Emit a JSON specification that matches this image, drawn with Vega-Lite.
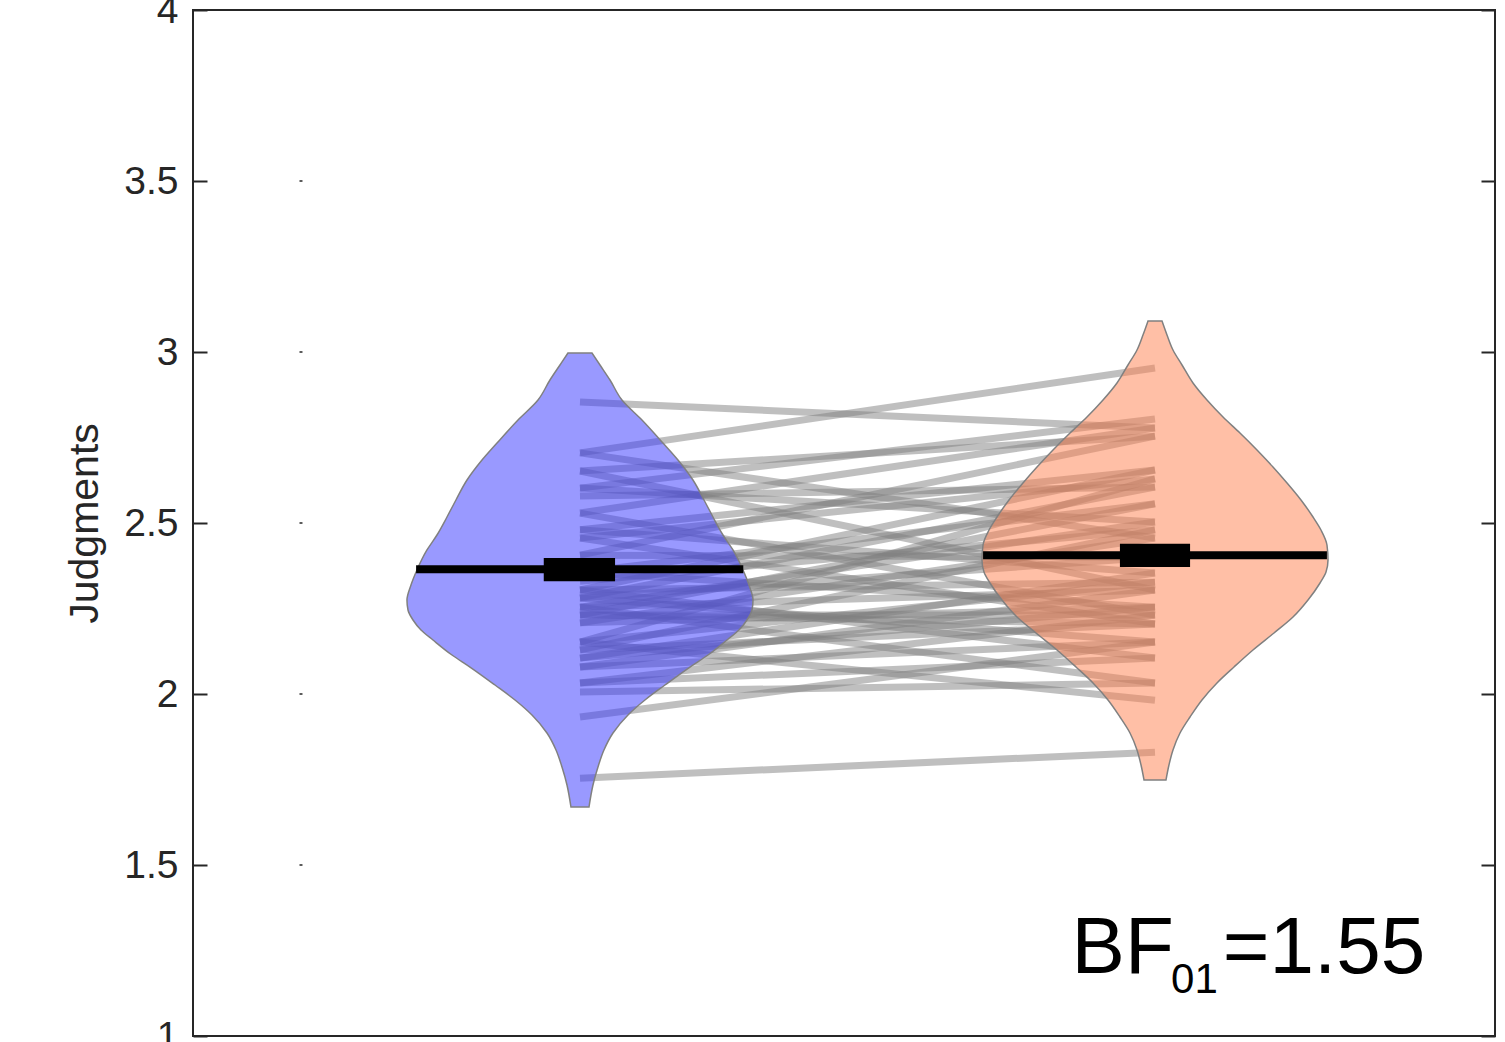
{
  "$schema": "https://vega.github.io/schema/vega-lite/v6.json",
  "autosize": {"type": "none"},
  "width": 1302,
  "height": 1026,
  "padding": {"left": 193, "top": 10, "right": 10, "bottom": 6},
  "background": "white",
  "config": {"view": {"stroke": "#262626", "strokeWidth": 2}, "font": "Liberation Sans"},
  "datasets": {
    "pairs": [
      {"id":1,"c":1,"v":2.854},{"id":1,"c":2,"v":2.778},
      {"id":2,"c":1,"v":2.705},{"id":2,"c":2,"v":2.953},
      {"id":3,"c":1,"v":2.705},{"id":3,"c":2,"v":2.456},
      {"id":4,"c":1,"v":2.652},{"id":4,"c":2,"v":2.754},
      {"id":5,"c":1,"v":2.652},{"id":5,"c":2,"v":2.304},
      {"id":6,"c":1,"v":2.602},{"id":6,"c":2,"v":2.804},
      {"id":7,"c":1,"v":2.602},{"id":7,"c":2,"v":2.503},
      {"id":8,"c":1,"v":2.579},{"id":8,"c":2,"v":2.605},
      {"id":9,"c":1,"v":2.529},{"id":9,"c":2,"v":2.778},
      {"id":10,"c":1,"v":2.529},{"id":10,"c":2,"v":2.231},
      {"id":11,"c":1,"v":2.480},{"id":11,"c":2,"v":2.655},
      {"id":12,"c":1,"v":2.480},{"id":12,"c":2,"v":2.354},
      {"id":13,"c":1,"v":2.456},{"id":13,"c":2,"v":2.629},
      {"id":14,"c":1,"v":2.456},{"id":14,"c":2,"v":2.205},
      {"id":15,"c":1,"v":2.406},{"id":15,"c":2,"v":2.754},
      {"id":16,"c":1,"v":2.406},{"id":16,"c":2,"v":2.400},
      {"id":17,"c":1,"v":2.356},{"id":17,"c":2,"v":2.556},
      {"id":18,"c":1,"v":2.356},{"id":18,"c":2,"v":2.254},
      {"id":19,"c":1,"v":2.330},{"id":19,"c":2,"v":2.480},
      {"id":20,"c":1,"v":2.304},{"id":20,"c":2,"v":2.655},
      {"id":21,"c":1,"v":2.304},{"id":21,"c":2,"v":2.327},
      {"id":22,"c":1,"v":2.304},{"id":22,"c":2,"v":2.105},
      {"id":23,"c":1,"v":2.281},{"id":23,"c":2,"v":2.605},
      {"id":24,"c":1,"v":2.281},{"id":24,"c":2,"v":2.400},
      {"id":25,"c":1,"v":2.281},{"id":25,"c":2,"v":2.152},
      {"id":26,"c":1,"v":2.254},{"id":26,"c":2,"v":2.503},
      {"id":27,"c":1,"v":2.254},{"id":27,"c":2,"v":2.304},
      {"id":28,"c":1,"v":2.254},{"id":28,"c":2,"v":2.032},
      {"id":29,"c":1,"v":2.231},{"id":29,"c":2,"v":2.556},
      {"id":30,"c":1,"v":2.231},{"id":30,"c":2,"v":2.231},
      {"id":31,"c":1,"v":2.231},{"id":31,"c":2,"v":2.205},
      {"id":32,"c":1,"v":2.208},{"id":32,"c":2,"v":2.456},
      {"id":33,"c":1,"v":2.208},{"id":33,"c":2,"v":2.254},
      {"id":34,"c":1,"v":2.152},{"id":34,"c":2,"v":2.629},
      {"id":35,"c":1,"v":2.152},{"id":35,"c":2,"v":2.327},
      {"id":36,"c":1,"v":2.152},{"id":36,"c":2,"v":1.982},
      {"id":37,"c":1,"v":2.129},{"id":37,"c":2,"v":2.480},
      {"id":38,"c":1,"v":2.129},{"id":38,"c":2,"v":2.205},
      {"id":39,"c":1,"v":2.105},{"id":39,"c":2,"v":2.354},
      {"id":40,"c":1,"v":2.105},{"id":40,"c":2,"v":2.254},
      {"id":41,"c":1,"v":2.079},{"id":41,"c":2,"v":2.304},
      {"id":42,"c":1,"v":2.079},{"id":42,"c":2,"v":2.152},
      {"id":43,"c":1,"v":2.032},{"id":43,"c":2,"v":2.231},
      {"id":44,"c":1,"v":2.032},{"id":44,"c":2,"v":2.105},
      {"id":45,"c":1,"v":2.006},{"id":45,"c":2,"v":2.032},
      {"id":46,"c":1,"v":1.933},{"id":46,"c":2,"v":2.152},
      {"id":47,"c":1,"v":1.754},{"id":47,"c":2,"v":1.830}
    ],
    "violin": [
      {"g":"A","v":1.6696,"lo":0.9843,"hi":1.0157},
      {"g":"A","v":1.7339,"lo":0.9774,"hi":1.0226},
      {"g":"A","v":1.7865,"lo":0.9687,"hi":1.0313},
      {"g":"A","v":1.8363,"lo":0.9583,"hi":1.0417},
      {"g":"A","v":1.8860,"lo":0.9426,"hi":1.0574},
      {"g":"A","v":1.9386,"lo":0.9165,"hi":1.0835},
      {"g":"A","v":1.9825,"lo":0.8870,"hi":1.1130},
      {"g":"A","v":2.0263,"lo":0.8522,"hi":1.1478},
      {"g":"A","v":2.0789,"lo":0.8087,"hi":1.1913},
      {"g":"A","v":2.1140,"lo":0.7774,"hi":1.2226},
      {"g":"A","v":2.1579,"lo":0.7443,"hi":1.2557},
      {"g":"A","v":2.1871,"lo":0.7235,"hi":1.2765},
      {"g":"A","v":2.2164,"lo":0.7096,"hi":1.2904},
      {"g":"A","v":2.2456,"lo":0.7009,"hi":1.2991},
      {"g":"A","v":2.2749,"lo":0.6991,"hi":1.3009},
      {"g":"A","v":2.3187,"lo":0.7061,"hi":1.2939},
      {"g":"A","v":2.3626,"lo":0.7165,"hi":1.2835},
      {"g":"A","v":2.4211,"lo":0.7339,"hi":1.2661},
      {"g":"A","v":2.4649,"lo":0.7513,"hi":1.2487},
      {"g":"A","v":2.5175,"lo":0.7687,"hi":1.2313},
      {"g":"A","v":2.5673,"lo":0.7843,"hi":1.2157},
      {"g":"A","v":2.6257,"lo":0.8035,"hi":1.1965},
      {"g":"A","v":2.6842,"lo":0.8296,"hi":1.1704},
      {"g":"A","v":2.7339,"lo":0.8557,"hi":1.1443},
      {"g":"A","v":2.8012,"lo":0.8922,"hi":1.1078},
      {"g":"A","v":2.8596,"lo":0.9270,"hi":1.0730},
      {"g":"A","v":2.9181,"lo":0.9478,"hi":1.0522},
      {"g":"A","v":2.9620,"lo":0.9652,"hi":1.0348},
      {"g":"A","v":2.9971,"lo":0.9791,"hi":1.0209},
      {"g":"B","v":1.7485,"lo":1.9809,"hi":2.0191},
      {"g":"B","v":1.7924,"lo":1.9757,"hi":2.0243},
      {"g":"B","v":1.8363,"lo":1.9687,"hi":2.0313},
      {"g":"B","v":1.8860,"lo":1.9565,"hi":2.0435},
      {"g":"B","v":1.9327,"lo":1.9391,"hi":2.0609},
      {"g":"B","v":1.9825,"lo":1.9183,"hi":2.0817},
      {"g":"B","v":2.0322,"lo":1.8922,"hi":2.1078},
      {"g":"B","v":2.0789,"lo":1.8626,"hi":2.1374},
      {"g":"B","v":2.1287,"lo":1.8296,"hi":2.1704},
      {"g":"B","v":2.1784,"lo":1.7930,"hi":2.2070},
      {"g":"B","v":2.2251,"lo":1.7600,"hi":2.2400},
      {"g":"B","v":2.2749,"lo":1.7339,"hi":2.2661},
      {"g":"B","v":2.3246,"lo":1.7130,"hi":2.2870},
      {"g":"B","v":2.3567,"lo":1.7026,"hi":2.2974},
      {"g":"B","v":2.3918,"lo":1.6991,"hi":2.3009},
      {"g":"B","v":2.4357,"lo":1.7009,"hi":2.2991},
      {"g":"B","v":2.4795,"lo":1.7113,"hi":2.2887},
      {"g":"B","v":2.5175,"lo":1.7252,"hi":2.2748},
      {"g":"B","v":2.5673,"lo":1.7461,"hi":2.2539},
      {"g":"B","v":2.6170,"lo":1.7704,"hi":2.2296},
      {"g":"B","v":2.6637,"lo":1.7948,"hi":2.2052},
      {"g":"B","v":2.7135,"lo":1.8226,"hi":2.1774},
      {"g":"B","v":2.7632,"lo":1.8522,"hi":2.1478},
      {"g":"B","v":2.8099,"lo":1.8817,"hi":2.1183},
      {"g":"B","v":2.8596,"lo":1.9096,"hi":2.0904},
      {"g":"B","v":2.9094,"lo":1.9339,"hi":2.0661},
      {"g":"B","v":2.9620,"lo":1.9530,"hi":2.0470},
      {"g":"B","v":3.0058,"lo":1.9687,"hi":2.0313},
      {"g":"B","v":3.0497,"lo":1.9791,"hi":2.0209},
      {"g":"B","v":3.0906,"lo":1.9878,"hi":2.0122}
    ],
    "means": [
      {"g":"A","m":2.365,"lo":0.715,"hi":1.284,"blo":0.937,"bhi":1.061,"ylo":2.330,"yhi":2.398},
      {"g":"B","m":2.406,"lo":1.701,"hi":2.299,"blo":1.939,"bhi":2.061,"ylo":2.371,"yhi":2.439}
    ],
    "dots": [
      {"y":1.5,"x1":0.5122,"x2":0.5174},
      {"y":2.0,"x1":0.5122,"x2":0.5174},
      {"y":2.5,"x1":0.5122,"x2":0.5174},
      {"y":3.0,"x1":0.5122,"x2":0.5174},
      {"y":3.5,"x1":0.5122,"x2":0.5174}
    ],
    "bfmain": [
      {"t":"BF","x":1.855,"y":1.1842},
      {"t":"=1.55","x":2.118,"y":1.1842}
    ],
    "bfsub": [
      {"t":"01","x":2.028,"y":1.1257}
    ]
  },
  "layer": [
    {
      "data": {"name": "pairs"},
      "mark": {"type": "line", "color": "#808080", "opacity": 0.5, "strokeWidth": 7, "strokeCap": "butt"},
      "encoding": {
        "x": {"field": "c", "type": "quantitative", "scale": {"domain": [0.327, 2.5913], "nice": false, "zero": false}, "axis": null},
        "y": {"field": "v", "type": "quantitative", "scale": {"domain": [1, 4], "nice": false, "zero": false},
          "axis": {"orient": "left", "values": [1, 1.5, 2, 2.5, 3, 3.5, 4], "format": ".1~f", "domain": false, "grid": false,
            "tickSize": -14, "tickWidth": 2, "tickColor": "#262626",
            "labelFont": "Liberation Sans", "labelFontSize": 39, "labelColor": "#262626", "labelPadding": 29,
            "labelFlush": false, "labelOverlap": false, "labelBound": false,
            "title": "Judgments", "titleFont": "Liberation Sans", "titleFontSize": 41, "titleFontWeight": "normal",
            "titleColor": "#262626", "titlePadding": 17}},
        "detail": {"field": "id", "type": "nominal"}
      }
    },
    {
      "data": {"name": "violin"},
      "mark": {"type": "area", "orient": "horizontal", "interpolate": "monotone", "fillOpacity": 0.5, "stroke": "#808080", "strokeWidth": 1.5, "strokeOpacity": 1},
      "encoding": {
        "y": {"field": "v", "type": "quantitative", "scale": {"domain": [1, 4], "nice": false, "zero": false},
          "axis": {"orient": "right", "values": [1, 1.5, 2, 2.5, 3, 3.5, 4], "labels": false, "domain": false, "grid": false,
            "tickSize": -14, "tickWidth": 2, "tickColor": "#262626", "title": null}},
        "x": {"field": "lo", "type": "quantitative", "scale": {"domain": [0.327, 2.5913], "nice": false, "zero": false}, "axis": null},
        "x2": {"field": "hi"},
        "fill": {"field": "g", "type": "nominal", "scale": {"domain": ["A", "B"], "range": ["#3333FF", "#FF804D"]}, "legend": null}
      }
    },
    {
      "data": {"name": "means"},
      "mark": {"type": "rule", "color": "black", "strokeWidth": 8, "strokeCap": "butt"},
      "encoding": {
        "y": {"field": "m", "type": "quantitative", "axis": null},
        "x": {"field": "lo", "type": "quantitative", "axis": null},
        "x2": {"field": "hi"}
      }
    },
    {
      "data": {"name": "means"},
      "mark": {"type": "rect", "color": "black"},
      "encoding": {
        "y": {"field": "ylo", "type": "quantitative", "axis": null},
        "y2": {"field": "yhi"},
        "x": {"field": "blo", "type": "quantitative", "axis": null},
        "x2": {"field": "bhi"}
      }
    },
    {
      "data": {"name": "dots"},
      "mark": {"type": "rule", "color": "#262626", "strokeWidth": 1.5},
      "encoding": {
        "y": {"field": "y", "type": "quantitative", "axis": null},
        "x": {"field": "x1", "type": "quantitative", "axis": null},
        "x2": {"field": "x2"}
      }
    },
    {
      "data": {"name": "bfmain"},
      "mark": {"type": "text", "font": "Liberation Sans", "fontSize": 80, "align": "left", "baseline": "alphabetic", "color": "black"},
      "encoding": {
        "x": {"field": "x", "type": "quantitative", "axis": null},
        "y": {"field": "y", "type": "quantitative", "axis": null},
        "text": {"field": "t"}
      }
    },
    {
      "data": {"name": "bfsub"},
      "mark": {"type": "text", "font": "Liberation Sans", "fontSize": 42, "align": "left", "baseline": "alphabetic", "color": "black"},
      "encoding": {
        "x": {"field": "x", "type": "quantitative", "axis": null},
        "y": {"field": "y", "type": "quantitative", "axis": null},
        "text": {"field": "t"}
      }
    }
  ],
  "resolve": {"axis": {"y": "independent"}}
}
